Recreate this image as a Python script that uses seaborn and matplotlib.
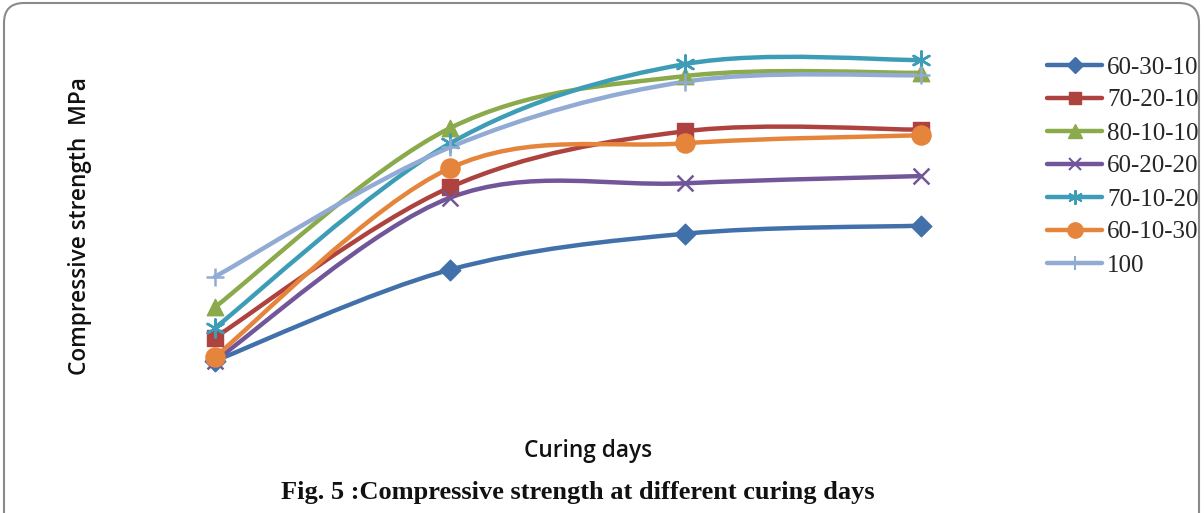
import numpy as np
import pandas as pd
import matplotlib
matplotlib.use("Agg")
import matplotlib.pyplot as plt
from matplotlib.path import Path
from matplotlib.patches import PathPatch, FancyBboxPatch
from matplotlib.lines import Line2D
import seaborn as sns

# Curing ages (days) and compressive strength (MPa) per mix
curing_days = ["7", "14", "28", "56"]
mixes = ["60-30-10", "70-20-10", "80-10-10", "60-20-20", "70-10-20", "60-10-30", "100"]
s_60_30_10 = [7.4, 18.8, 23.3, 24.3]
s_70_20_10 = [10.3, 29.1, 36.1, 36.3]
s_80_10_10 = [14.1, 36.5, 43.0, 43.4]
s_60_20_20 = [7.4, 27.8, 29.6, 30.5]
s_70_10_20 = [11.5, 34.6, 44.5, 45.0]
s_60_10_30 = [7.9, 31.5, 34.6, 35.6]
s_100 = [17.9, 34.1, 42.3, 43.1]
strengths = [s_60_30_10, s_70_20_10, s_80_10_10, s_60_20_20, s_70_10_20, s_60_10_30, s_100]

colors = ["#4170AA", "#AD423F", "#8BAA4B", "#72569A", "#3E9DB6", "#E5843B", "#92ABD4"]
markers = ["D", "s", "^", "x", (6, 2, 0), "o", "+"]
msizes = [110, 120, 140, 130, 170, 190, 160]

sns.set_theme(style="white")
fig = plt.figure(figsize=(12.04, 5.13), dpi=100)
ax = fig.add_axes([0.0806, 0.181, 0.782, 0.780])

records = []
for mix, vals in zip(mixes, strengths):
    for d, v in zip(curing_days, vals):
        records.append({"mix": mix, "day": d, "strength": v})
df = pd.DataFrame(records)
df["pos"] = df["day"].map({d: i for i, d in enumerate(curing_days)})


def smooth_path(xs, ys):
    """Cubic Bezier through the points (Catmull-Rom style tangents)."""
    pts = np.column_stack([xs, ys]).astype(float)
    n = len(pts)
    verts = [pts[0]]
    codes = [Path.MOVETO]
    for i in range(n - 1):
        p0 = pts[i - 1] if i > 0 else pts[i]
        p1 = pts[i]
        p2 = pts[i + 1]
        p3 = pts[i + 2] if i + 2 < n else pts[i + 1]
        c1 = p1 + (p2 - p0) / 6.0
        c2 = p2 - (p3 - p1) / 6.0
        verts += [c1, c2, p2]
        codes += [Path.CURVE4] * 3
    return Path(verts, codes)


handles = []
for mix, col, mk, ms in zip(mixes, colors, markers, msizes):
    sub = df[df["mix"] == mix]
    path = smooth_path(sub["pos"].values, sub["strength"].values)
    ax.add_patch(PathPatch(path, facecolor="none", edgecolor=col, lw=3.2,
                           capstyle="round", joinstyle="round", zorder=2))
    filled = matplotlib.markers.MarkerStyle(mk).is_filled()
    kw = dict(edgecolor=col, linewidth=1) if filled else dict(linewidth=1.8)
    sns.scatterplot(data=sub, x="pos", y="strength", marker=mk, color=col,
                    s=ms, ax=ax, zorder=3, legend=False, **kw)
    handles.append(Line2D([0], [0], color=col, lw=3.2, marker=mk,
                          markersize=np.sqrt(ms) * 0.8,
                          markeredgewidth=1.5 if not filled else 1,
                          markeredgecolor=col, markerfacecolor=col,
                          solid_capstyle="round"))

ax.set_xlim(-0.5, 3.5)
ax.set_ylim(0, 50)
ax.set_xticks([])
ax.set_yticks([])
ax.set_xlabel("")
ax.set_ylabel("")
for sp in ax.spines.values():
    sp.set_visible(False)
ax.patch.set_alpha(0)

label_font = dict(family=["Open Sans", "DejaVu Sans"], fontsize=16.3,
                  fontweight="semibold", color="#111111")
fig.text(80 / 1204, 1 - 226 / 513, "Compressive strength  MPa", rotation=90,
         ha="center", va="center", **label_font)
fig.text(588 / 1204, 1 - 451 / 513, "Curing days", ha="center", va="center", **label_font)
fig.text(578 / 1204, 1 - 492 / 513, "Fig. 5 :Compressive strength at different curing days",
         ha="center", va="center", family=["Liberation Serif"], fontsize=19,
         fontweight="bold", color="#111111")

fig.legend(handles=handles, labels=mixes, loc="upper left",
           bbox_to_anchor=(1047 / 1204, 1 - 56 / 513), frameon=False,
           prop={"family": "Liberation Serif", "size": 18},
           handlelength=2.2, handletextpad=0.2, labelspacing=0.42, borderaxespad=0,
           borderpad=0)

# rounded frame around the whole chart
frame = FancyBboxPatch((0.04, -0.5), 11.95, 5.60,
                       boxstyle="round,pad=0,rounding_size=0.2",
                       transform=fig.dpi_scale_trans, facecolor="none",
                       edgecolor="#8a8a8a", lw=1.5, clip_on=False)
fig.patches.append(frame)

fig.savefig("out.png", dpi=100)
